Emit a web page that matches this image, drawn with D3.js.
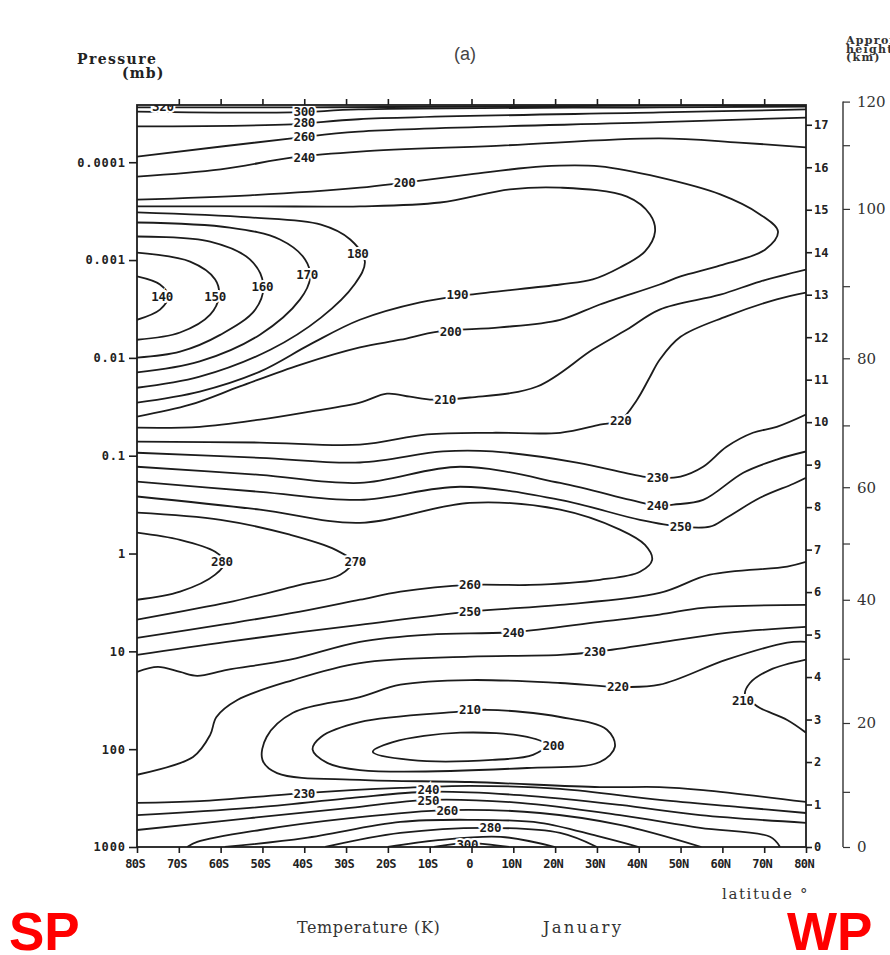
<!DOCTYPE html>
<html>
<head>
<meta charset="utf-8">
<script src="https://cdn.jsdelivr.net/npm/d3@7"></script>
<style>
  body { margin: 0; background: #fff; }
  .tick text { font-family: "DejaVu Sans Mono", monospace; font-weight: bold; fill: #222; }
</style>
</head>
<body>
<div id="chart"></div>
<script>
// ---- data ----
var latTicks = [-80, -70, -60, -50, -40, -30, -20, -10, 0, 10, 20, 30, 40, 50, 60, 70, 80];
var latLabels = ["80S", "70S", "60S", "50S", "40S", "30S", "20S", "10S", "0", "10N", "20N", "30N", "40N", "50N", "60N", "70N", "80N"];
var pressTicks = [1000, 100, 10, 1, 0.1, 0.01, 0.001, 0.0001];
var pressLabels = ["1000", "100", "10", "1", "0.1", "0.01", "0.001", "0.0001"];
var pressTop = 2.6e-5;     // mb, top of the frame
var scaleHeights = [0, 1, 2, 3, 4, 5, 6, 7, 8, 9, 10, 11, 12, 13, 14, 15, 16, 17];
var kmValues = [0, 10, 20, 30, 40, 50, 60, 70, 80, 90, 100, 110, 120];
var kmPressure = [1000, 273, 54, 11.9, 2.97, 0.79, 0.21, 0.049, 0.0101, 0.00185, 0.0003, 6.7e-5, 2.4e-5];

// isotherms: [latitude, scale height z = ln(1000/p)]
var isotherms = [
  { t: 320, pts: [[-80, 17.41], [-40, 17.41], [7, 17.43], [80, 17.47]] },
  { t: 300, pts: [[-80, 17.31], [-43, 17.29], [-27, 17.36], [45, 17.41], [80, 17.43]] },
  { t: 280, pts: [[-80, 16.96], [-43, 17.01], [-27, 17.13], [45, 17.29], [80, 17.36]] },
  { t: 260, pts: [[-80, 16.25], [-43, 16.68], [-27, 16.84], [45, 17.06], [80, 17.17]] },
  { t: 240, pts: [[-80, 15.78], [-60, 15.95], [-42.7, 16.23], [-26.7, 16.37], [7, 16.51], [45, 16.68], [64, 16.58], [80, 16.47]] },
  { t: 200, pts: [[-80, 15.24], [-53, 15.34], [-26.7, 15.52], [-16, 15.64], [-0.4, 15.83], [17, 16.02], [30.7, 16.02], [45, 15.76], [59.5, 15.36], [69, 14.89], [73.3, 14.49], [70.2, 14.06], [59.5, 13.69], [50, 13.43], [45, 13.24], [30.7, 12.77], [21.2, 12.41], [6.8, 12.23], [-8, 12.13], [-17, 11.94], [-26.7, 11.76], [-41, 11.35], [-55.4, 10.84], [-67.3, 10.41], [-80, 10.13]] },
  { t: 190, pts: [[-80, 15.08], [-50.6, 15.08], [-26.7, 15.08], [-7.5, 15.17], [9.2, 15.48], [21.2, 15.52], [37.2, 15.31], [42.7, 14.89], [43.9, 14.49], [41.5, 14.02], [35.5, 13.64], [29, 13.36], [21.2, 13.24], [-0.4, 13.0], [-12.3, 12.82], [-26.7, 12.41], [-38.6, 11.83], [-50.6, 11.19], [-65, 10.72], [-80, 10.46]] },
  { t: 180, pts: [[-80, 14.94], [-53, 14.82], [-36, 14.65], [-29, 14.30], [-25.5, 13.78], [-28, 13.24], [-36, 12.46], [-48, 11.71], [-65, 11.07], [-80, 10.81]] },
  { t: 170, pts: [[-80, 14.70], [-57.8, 14.58], [-45.8, 14.30], [-39.8, 13.83], [-38.6, 13.40], [-41, 12.89], [-50.6, 12.06], [-65, 11.43], [-80, 11.17]] },
  { t: 160, pts: [[-80, 14.37], [-62.5, 14.25], [-53, 13.83], [-49.8, 13.24], [-51.7, 12.65], [-60, 12.06], [-69.7, 11.66], [-80, 11.52]] },
  { t: 150, pts: [[-80, 13.99], [-67.3, 13.78], [-61.3, 13.36], [-60.4, 12.96], [-62.5, 12.53], [-69.7, 12.11], [-80, 11.94]] },
  { t: 140, pts: [[-80, 13.43], [-74.5, 13.24], [-72.5, 12.96], [-74.5, 12.65], [-80, 12.41]] },
  { t: 210, pts: [[-80, 9.87], [-65, 9.89], [-50.6, 10.06], [-38.6, 10.25], [-26.7, 10.46], [-20.2, 10.67], [-14.7, 10.60], [-9.2, 10.53], [-0.4, 10.58], [15.7, 10.84], [29, 11.71], [37.2, 12.18], [45, 12.65], [59.5, 13.0], [69, 13.31], [80, 13.59]] },
  { t: 220, pts: [[-80, 9.54], [-50.6, 9.52], [-26.7, 9.47], [-10.6, 9.71], [5, 9.75], [21.2, 9.75], [30.7, 9.94], [35.5, 10.04], [39.6, 10.53], [42.7, 11.07], [45, 11.47], [50, 12.01], [61, 12.49], [73, 12.89], [80, 13.05]] },
  { t: 230, pts: [[-80, 9.28], [-50.6, 9.16], [-26.7, 9.05], [-6.8, 9.31], [5, 9.31], [25.2, 9.05], [41, 8.72], [45, 8.69], [50, 8.72], [55.4, 8.95], [61, 9.42], [67.3, 9.75], [73, 9.89], [80, 10.18]] },
  { t: 240, pts: [[-80, 8.95], [-50.6, 8.76], [-26.7, 8.57], [-2.7, 8.95], [21.2, 8.57], [38, 8.17], [44.4, 8.03], [48.3, 8.06], [55.4, 8.17], [65, 8.81], [73, 9.12], [80, 9.31]] },
  { t: 250, pts: [[-80, 8.60], [-50.6, 8.36], [-26.7, 8.17], [-2.7, 8.48], [21.2, 8.17], [40.3, 7.70], [50, 7.54], [57, 7.54], [61, 7.75], [69, 8.22], [77, 8.55], [80, 8.69]] },
  { t: 260, pts: [[-80, 8.25], [-50.6, 7.94], [-26.7, 7.63], [-0.4, 8.10], [21.2, 7.94], [35.5, 7.47], [41.5, 7.11], [43.2, 6.76], [40.3, 6.48], [30.7, 6.29], [14, 6.17], [-0.4, 6.17], [-17, 6.01], [-26.7, 5.82], [-41, 5.54], [-58.5, 5.25], [-80, 4.92]] },
  { t: 270, pts: [[-80, 7.87], [-60, 7.70], [-43.4, 7.35], [-32.6, 7.0], [-28.5, 6.71], [-31.4, 6.41], [-41, 6.17], [-58.5, 5.75], [-80, 5.35]] },
  { t: 280, pts: [[-80, 7.40], [-69.7, 7.23], [-61.3, 6.95], [-59, 6.71], [-61.3, 6.41], [-69.7, 6.01], [-80, 5.82]] },
  { t: 250, pts: [[-80, 4.52], [-58.5, 4.83], [-26.7, 5.23], [-0.4, 5.54], [21.2, 5.70], [45, 5.98], [57, 6.41], [75.5, 6.60], [80, 6.71]] },
  { t: 240, pts: [[-80, 4.12], [-75, 4.24], [-69.7, 4.12], [-65.6, 4.03], [-58.5, 4.17], [-43.4, 4.41], [-26.7, 4.83], [-10, 5.0], [10, 5.06], [30.7, 5.30], [45, 5.47], [55.4, 5.63], [80, 5.70]] },
  { t: 230, pts: [[-80, 1.70], [-66.6, 2.12], [-62.5, 2.64], [-61, 3.06], [-56, 3.46], [-42.7, 3.93], [-26.7, 4.33], [-0.4, 4.48], [21.2, 4.52], [29.5, 4.59], [45, 4.81], [61, 5.04], [80, 5.18]] },
  { t: 220, pts: [[80, 4.83], [75.5, 4.81], [61, 4.41], [45, 3.82], [35, 3.77], [21.2, 3.86], [-0.4, 3.93], [-17, 3.82], [-26.7, 3.53], [-42.7, 3.16], [-49, 2.59], [-50, 2.05], [-46.5, 1.74], [-26.7, 1.58], [-0.4, 1.53], [30.7, 1.41], [45, 1.41], [55.4, 1.34], [80, 1.06]] },
  { t: 210, closed: true, pts: [[3.7, 3.23], [21.2, 3.06], [32.4, 2.76], [34.3, 2.36], [30.7, 2.0], [13.3, 1.86], [-26.7, 1.81], [-34.5, 1.98], [-38, 2.29], [-36, 2.59], [-26.7, 2.94], [-3.5, 3.18]] },
  { t: 200, closed: true, pts: [[-23.6, 2.24], [-18.8, 2.47], [-2.7, 2.69], [13.3, 2.59], [18, 2.40], [14.7, 2.17], [5, 2.05], [-14.7, 2.05]] },
  { t: 210, pts: [[80, 4.41], [71.4, 4.17], [66.6, 3.86], [65.4, 3.58], [67.3, 3.39], [69, 3.27], [75.5, 2.99], [80, 2.69]] },
  { t: 230, pts: [[-80, 1.04], [-65, 1.08], [-40, 1.27], [-17, 1.39], [-0.4, 1.44], [21.2, 1.37], [45, 1.11], [64.2, 0.94], [80, 0.80]] },
  { t: 240, pts: [[-80, 0.75], [-53, 0.92], [-29, 1.15], [-10.3, 1.30], [11.6, 1.22], [35.5, 0.99], [54.7, 0.75], [80, 0.57]] },
  { t: 250, pts: [[-80, 0.40], [-53, 0.68], [-29, 0.92], [-10.3, 1.11], [11.6, 1.04], [35.5, 0.75], [54.7, 0.45], [71.4, 0.24], [73.8, 0]] },
  { t: 260, pts: [[-68, 0], [-65.6, 0.12], [-50.6, 0.40], [-29, 0.68], [-5.6, 0.87], [16.4, 0.80], [35.5, 0.52], [55, 0]] },
  { t: 270, pts: [[-59, 0], [-40, 0.21], [-17, 0.59], [-0.4, 0.64], [16.4, 0.57], [30, 0.26], [40, 0]] },
  { t: 280, pts: [[-35, 0], [-17, 0.33], [4.5, 0.45], [21.2, 0.33], [30, 0]] },
  { t: 290, pts: [[-20, 0], [-8, 0.16], [7, 0.24], [20, 0]] },
  { t: 300, pts: [[-9, 0], [-1, 0.09], [9, 0]] }
];

var isothermLabels = [
  ["320", -73.8, 17.43], ["300", -40, 17.31], ["280", -40, 17.06], ["260", -40, 16.72], ["240", -40, 16.23],
  ["200", -16, 15.64], ["180", -27.2, 13.97], ["170", -39.3, 13.47], ["160", -50, 13.19],
  ["150", -61.3, 12.96], ["140", -74, 12.96], ["190", -3.4, 13.0], ["200", -5, 12.13],
  ["210", -6.3, 10.53], ["220", 35.7, 10.04], ["230", 44.5, 8.69], ["240", 44.5, 8.03],
  ["250", 50, 7.54], ["280", -59.7, 6.71], ["270", -27.8, 6.71], ["260", -0.4, 6.17],
  ["250", -0.4, 5.54], ["240", 10, 5.06], ["230", 29.5, 4.59], ["220", 35, 3.77],
  ["210", -0.4, 3.23], ["200", 19.6, 2.40], ["210", 64.9, 3.46], ["230", -40, 1.27],
  ["240", -10.3, 1.36], ["250", -10.3, 1.10], ["260", -5.8, 0.87], ["280", 4.5, 0.45],
  ["300", -1, 0.06]
];

// ---- layout ----
var svg = d3.select("#chart").append("svg")
    .attr("width", 890)
    .attr("height", 955)
    .style("background", "#fff");

var plotL = 137, plotR = 806, plotT = 105, plotB = 847;

var x = d3.scaleLinear().domain([-80, 80]).range([plotL, plotR]);
var y = d3.scaleLinear().domain([0, Math.log(1000 / pressTop)]).range([plotB, plotT]);
var zOf = function (p) { return Math.log(1000 / p); };

svg.append("clipPath").attr("id", "plotClip")
  .append("rect").attr("x", plotL).attr("y", plotT)
  .attr("width", plotR - plotL).attr("height", plotB - plotT);

var line = d3.line()
    .x(function (d) { return x(d[0]); })
    .y(function (d) { return y(d[1]); })
    .curve(d3.curveCatmullRom.alpha(0.5));
var ring = d3.line()
    .x(function (d) { return x(d[0]); })
    .y(function (d) { return y(d[1]); })
    .curve(d3.curveCatmullRomClosed.alpha(0.5));

var plot = svg.append("g").attr("clip-path", "url(#plotClip)");

plot.selectAll(".iso")
  .data(isotherms)
  .enter().append("path")
    .attr("class", "iso")
    .attr("d", function (d) { return d.closed ? ring(d.pts) : line(d.pts); })
    .style("fill", "none")
    .style("stroke", "#1c1c1c")
    .style("stroke-width", 1.8);

plot.selectAll(".isoLabel")
  .data(isothermLabels)
  .enter().append("text")
    .attr("class", "isoLabel")
    .attr("x", function (d) { return x(d[1]); })
    .attr("y", function (d) { return y(d[2]); })
    .attr("dy", "0.36em")
    .attr("text-anchor", "middle")
    .style("font-family", "'DejaVu Sans Mono', monospace")
    .style("font-weight", "bold")
    .style("font-size", "12.5px")
    .style("letter-spacing", "-0.3px")
    .style("fill", "#1c1c1c")
    .style("stroke", "#fff")
    .style("stroke-width", 4)
    .style("paint-order", "stroke")
    .text(function (d) { return d[0]; });

// frame
svg.append("rect")
  .attr("x", plotL).attr("y", plotT)
  .attr("width", plotR - plotL).attr("height", plotB - plotT)
  .style("fill", "none").style("stroke", "#1c1c1c").style("stroke-width", 1.8);

// axes
var gLeft = svg.append("g").attr("transform", "translate(" + plotL + ",0)")
  .call(d3.axisLeft(y)
    .tickValues(pressTicks.map(zOf))
    .tickFormat(function (d, i) { return pressLabels[i]; })
    .tickSize(8).tickPadding(3));

var gBottom = svg.append("g").attr("transform", "translate(0," + plotB + ")")
  .call(d3.axisBottom(x)
    .tickValues(latTicks)
    .tickFormat(function (d, i) { return latLabels[i]; })
    .tickSize(6).tickPadding(6));

var gTop = svg.append("g").attr("transform", "translate(0," + plotT + ")")
  .call(d3.axisTop(x).tickValues(latTicks.slice(1, -1)).tickFormat("").tickSize(6));

var gRight = svg.append("g").attr("transform", "translate(" + plotR + ",0)")
  .call(d3.axisRight(y).tickValues(scaleHeights).tickSize(6).tickPadding(2));

[gLeft, gBottom, gTop, gRight].forEach(function (g) {
  g.select(".domain").remove();
  g.selectAll(".tick line").style("stroke", "#1c1c1c").style("stroke-width", 1.6);
});
gLeft.selectAll(".tick text").style("font-size", "12px").style("letter-spacing", "0.9px");
gBottom.selectAll(".tick text").style("font-size", "12px").style("letter-spacing", "-0.6px")
  .attr("dx", "-0.2em");
gRight.selectAll(".tick text").style("font-size", "12px");

// approximate height axis (km)
var gKm = svg.append("g").attr("transform", "translate(843,0)")
  .call(d3.axisRight(y)
    .tickValues(kmPressure.map(zOf))
    .tickFormat(function (d, i) { return kmValues[i] % 20 === 0 ? kmValues[i] : ""; })
    .tickSize(7).tickPadding(7));
gKm.select(".domain")
  .attr("d", "M0," + y(zOf(kmPressure[kmPressure.length - 1])) + "V" + plotB)
  .style("stroke", "#333").style("stroke-width", 1.4);
gKm.selectAll(".tick line").style("stroke", "#333").style("stroke-width", 1.2);
gKm.selectAll(".tick text")
  .style("font-family", "'DejaVu Serif', serif").style("font-weight", "normal")
  .style("font-size", "15px").style("fill", "#333");

// titles and notes
svg.append("text").attr("x", 77).attr("y", 64).text("Pressure")
  .style("font-family", "'DejaVu Serif', serif").style("font-weight", "bold")
  .style("font-size", "14px").style("letter-spacing", "1.4px").style("fill", "#222");
svg.append("text").attr("x", 122).attr("y", 78).text("(mb)")
  .style("font-family", "'DejaVu Serif', serif").style("font-weight", "bold")
  .style("font-size", "14px").style("letter-spacing", "1.2px").style("fill", "#222");

svg.append("text").attr("x", 465).attr("y", 60).attr("text-anchor", "middle").text("(a)")
  .style("font-family", "'Liberation Sans', sans-serif").style("font-size", "18px").style("fill", "#444");

["Approx.", "height", "(km)"].forEach(function (s, i) {
  svg.append("text").attr("x", 846).attr("y", 44 + i * 8.5).text(s)
    .style("font-family", "'DejaVu Serif', serif").style("font-weight", "bold")
    .style("font-size", "11px").style("letter-spacing", "1.3px").style("fill", "#333");
});

svg.append("text").attr("x", 722).attr("y", 899).text("latitude \u00b0")
  .style("font-family", "'DejaVu Serif', serif").style("font-size", "15px")
  .style("letter-spacing", "1.6px").style("fill", "#333");
svg.append("text").attr("x", 297).attr("y", 933).text("Temperature (K)")
  .style("font-family", "'DejaVu Serif', serif").style("font-size", "16px")
  .style("letter-spacing", "0.6px").style("fill", "#333");
svg.append("text").attr("x", 543).attr("y", 933).text("January")
  .style("font-family", "'DejaVu Serif', serif").style("font-size", "16.5px")
  .style("letter-spacing", "2.2px").style("fill", "#333");

svg.append("text").attr("x", 9).attr("y", 950).text("SP")
  .style("font-family", "'Liberation Sans', Arial, sans-serif").style("font-weight", "bold")
  .style("font-size", "53px").style("fill", "#f00");
svg.append("text").attr("x", 787).attr("y", 950).text("WP")
  .style("font-family", "'Liberation Sans', Arial, sans-serif").style("font-weight", "bold")
  .style("font-size", "53px").style("fill", "#f00");
</script>
</body>
</html>
